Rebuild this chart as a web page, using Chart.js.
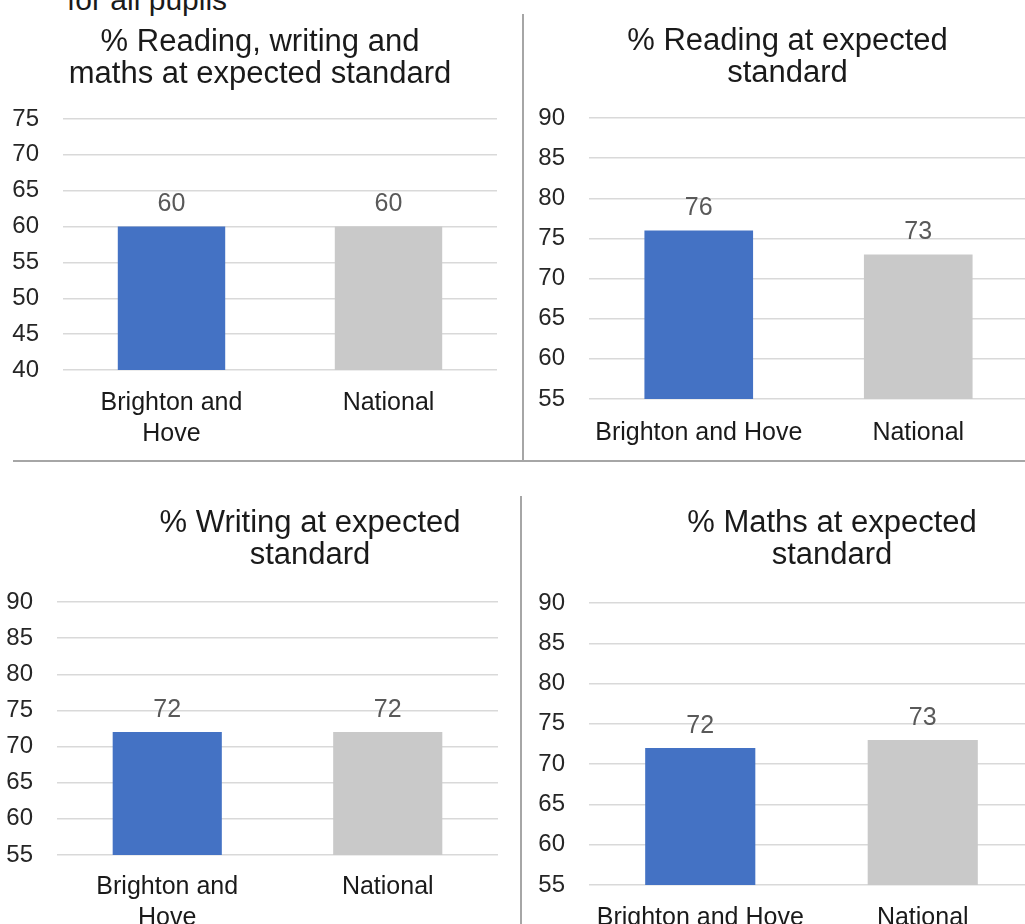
<!DOCTYPE html>
<html>
<head>
<meta charset="utf-8">
<script src="https://cdn.jsdelivr.net/npm/chart.js@4.4.1/dist/chart.umd.min.js"></script>
<style>
  html, body { margin: 0; padding: 0; background: #ffffff; }
  body { width: 1025px; height: 924px; position: relative; overflow: hidden; font-family: "Liberation Sans", Arial, sans-serif; }
  .panel { position: absolute; }
  .rule { position: absolute; background: #a6a6a6; }
  .lead { position: absolute; left: 67px; top: -15px; font-size: 30px; line-height: 30px; color: #1a1a1a; white-space: nowrap; }
</style>
</head>
<body>
<div class="lead">for all pupils</div>
<div class="rule" style="left:13px; top:460px; width:1012px; height:2px;"></div>
<div class="rule" style="left:522px; top:14px; width:2px; height:448px;"></div>
<div class="rule" style="left:520px; top:496px; width:2px; height:428px;"></div>

<div class="panel" style="left:0px; top:0px;"><canvas id="rwm"></canvas></div>
<div class="panel" style="left:523px; top:0px;"><canvas id="reading"></canvas></div>
<div class="panel" style="left:0px; top:462px;"><canvas id="writing"></canvas></div>
<div class="panel" style="left:519px; top:462px;"><canvas id="maths"></canvas></div>

<script>
// Areas compared
const categories = ['Brighton and Hove', 'National'];
const barColours = ['#4472c4', '#c9c9c9'];

// % of pupils at the expected standard
const rwmValues = [60, 60];
const readingValues = [76, 73];
const writingValues = [72, 72];
const mathsValues = [72, 73];

// Panel titles
const rwmTitle = ['% Reading, writing and', 'maths at expected standard'];
const readingTitle = ['% Reading at expected', 'standard'];
const writingTitle = ['% Writing at expected', 'standard'];
const mathsTitle = ['% Maths at expected', 'standard'];

// Value axis ranges [min, max, step]
const rwmAxis = [40, 75, 5];
const readingAxis = [55, 90, 5];
const writingAxis = [55, 90, 5];
const mathsAxis = [55, 90, 5];

const FONT = '"Liberation Sans", Arial, sans-serif';

// Writes each bar's value just above it
const valueLabels = {
  id: 'valueLabels',
  afterDatasetsDraw(chart) {
    const ctx = chart.ctx;
    ctx.save();
    ctx.font = '25px ' + FONT;
    ctx.fillStyle = '#595959';
    ctx.textAlign = 'center';
    ctx.textBaseline = 'middle';
    chart.data.datasets.forEach((ds, i) => {
      chart.getDatasetMeta(i).data.forEach((bar, j) => {
        ctx.fillText(String(ds.data[j]), bar.x, bar.y - 22);
      });
    });
    ctx.restore();
  }
};

function wrapLabel(text, maxChars) {
  if (!maxChars || text.length <= maxChars) return text;
  const words = text.split(' ');
  const lines = [];
  let line = '';
  words.forEach(w => {
    const next = line ? line + ' ' + w : w;
    if (next.length > maxChars && line) { lines.push(line); line = w; }
    else line = next;
  });
  if (line) lines.push(line);
  return lines;
}

function makePanel(id, cfg) {
  const canvas = document.getElementById(id);
  canvas.style.width = cfg.width + 'px';
  canvas.style.height = cfg.height + 'px';
  canvas.width = cfg.width;
  canvas.height = cfg.height;
  return new Chart(canvas, {
    type: 'bar',
    data: {
      labels: categories,
      datasets: [{
        data: cfg.values,
        backgroundColor: barColours,
        borderWidth: 0,
        categoryPercentage: 1,
        barPercentage: 0.495
      }]
    },
    options: {
      responsive: false,
      animation: false,
      devicePixelRatio: 1,
      layout: { padding: 0 },
      plugins: {
        legend: { display: false },
        tooltip: { enabled: false },
        title: {
          display: true,
          text: cfg.title,
          color: '#1a1a1a',
          font: { family: FONT, size: 31, lineHeight: 32 / 31, weight: 'normal' },
          padding: { top: cfg.titleTop, bottom: cfg.titleBottom }
        }
      },
      scales: {
        x: {
          grid: { display: false },
          border: { display: false },
          ticks: {
            color: '#1a1a1a',
            font: { family: FONT, size: 25, lineHeight: 31 / 25 },
            padding: cfg.labelPad,
            maxRotation: 0,
            autoSkip: false,
            callback: function (value) {
              return wrapLabel(this.getLabelForValue(value), cfg.wrap);
            }
          },
          afterFit: s => { s.height = cfg.xHeight; }
        },
        y: {
          min: cfg.axis[0],
          max: cfg.axis[1],
          ticks: {
            stepSize: cfg.axis[2],
            color: '#262626',
            font: { family: FONT, size: 24 },
            padding: 24
          },
          grid: { color: '#d9d9d9', lineWidth: 1.5, drawTicks: false },
          border: { display: false },
          afterFit: s => { s.width = cfg.yWidth; }
        },
        gap: {
          type: 'linear',
          position: 'right',
          display: true,
          grid: { display: false, drawTicks: false },
          border: { display: false },
          ticks: { display: false },
          afterFit: s => { s.width = cfg.gapWidth; }
        }
      }
    },
    plugins: [valueLabels]
  });
}

makePanel('rwm', {
  values: rwmValues, title: rwmTitle, axis: rwmAxis,
  width: 520, height: 460, yWidth: 63, gapWidth: 23,
  titleTop: 26, titleBottom: 29, xHeight: 90, labelPad: 10, wrap: 14
});
makePanel('reading', {
  values: readingValues, title: readingTitle, axis: readingAxis,
  width: 529, height: 460, yWidth: 66, gapWidth: 24,
  titleTop: 25, titleBottom: 29, xHeight: 61, labelPad: 11, wrap: 0
});
makePanel('writing', {
  values: writingValues, title: writingTitle, axis: writingAxis,
  width: 620, height: 462, yWidth: 57, gapWidth: 122,
  titleTop: 45, titleBottom: 31, xHeight: 69, labelPad: 9, wrap: 14
});
makePanel('maths', {
  values: mathsValues, title: mathsTitle, axis: mathsAxis,
  width: 626, height: 462, yWidth: 70, gapWidth: 111,
  titleTop: 45, titleBottom: 32, xHeight: 39, labelPad: 10, wrap: 0
});
</script>
</body>
</html>
